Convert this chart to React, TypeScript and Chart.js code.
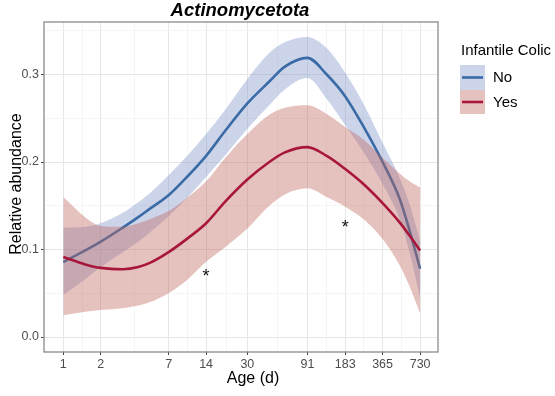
import { useEffect, useRef } from 'react';
import { Chart, registerables } from 'chart.js';

Chart.register(...registerables);

// ---------- data ----------
const AGES = [1, 1.5, 2, 3, 4, 5, 7, 10, 14, 20, 30, 45, 60, 91, 130, 183, 260, 365, 500, 600, 730];

const NO_FIT = [0.0857, 0.099, 0.109, 0.125, 0.137, 0.147, 0.162, 0.184, 0.207, 0.236, 0.267, 0.292, 0.309, 0.319, 0.3, 0.275, 0.239, 0.2, 0.158, 0.122, 0.078];
const NO_UPPER = [0.125, 0.126, 0.13, 0.142, 0.154, 0.165, 0.185, 0.208, 0.232, 0.26, 0.295, 0.325, 0.337, 0.343, 0.33, 0.302, 0.265, 0.222, 0.182, 0.152, 0.11];
const NO_LOWER = [0.048, 0.066, 0.08, 0.097, 0.109, 0.12, 0.138, 0.16, 0.183, 0.208, 0.238, 0.265, 0.283, 0.296, 0.272, 0.242, 0.21, 0.175, 0.135, 0.097, 0.045];

const YES_FIT = [0.0914, 0.083, 0.079, 0.0775, 0.08, 0.085, 0.097, 0.113, 0.13, 0.155, 0.18, 0.2, 0.211, 0.217, 0.207, 0.192, 0.174, 0.153, 0.131, 0.116, 0.099];
const YES_UPPER = [0.16, 0.137, 0.127, 0.126, 0.13, 0.135, 0.144, 0.16, 0.178, 0.205, 0.232, 0.254, 0.262, 0.265, 0.255, 0.24, 0.225, 0.205, 0.187, 0.178, 0.171];
const YES_LOWER = [0.025, 0.029, 0.031, 0.033, 0.036, 0.04, 0.05, 0.066, 0.086, 0.103, 0.124, 0.15, 0.163, 0.17, 0.16, 0.149, 0.134, 0.112, 0.082, 0.058, 0.027];

const X_TICKS = [1, 2, 7, 14, 30, 91, 183, 365, 730];
const Y_TICKS = [0, 0.1, 0.2, 0.3];
const Y_MINOR = [0.05, 0.15, 0.25, 0.35];

const SIG_AGES = [14, 183];
const SIG_VALUES = [0.074, 0.13];
const SIG_LABEL = '*';

const TITLE = 'Actinomycetota';
const X_TITLE = 'Age (d)';
const Y_TITLE = 'Relative abundance';
const LEGEND_TITLE = 'Infantile Colic';
const GROUPS = ['No', 'Yes'];

// ---------- style ----------
const FONT = '"Liberation Sans", Arial, Helvetica, sans-serif';
const BLUE = '#3A6BA6';
const RED = '#A8173B';
const BLUE_BAND = 'rgba(127,147,200,0.4)';
const RED_BAND = 'rgba(192,103,94,0.4)';

const X_MINOR = X_TICKS.slice(1).map((v, i) => Math.sqrt(v * X_TICKS[i]));

const pts = (vals: number[]) => AGES.map((a, i) => ({ x: a, y: vals[i] }));

const isMajorY = (v: number) => Y_TICKS.some((t) => Math.abs(t - v) < 1e-9);
const isMajorX = (v: number) => X_TICKS.some((t) => Math.abs(t - v) < 1e-9);

export default function App() {
  const ref = useRef<HTMLCanvasElement | null>(null);

  useEffect(() => {
    const canvas = ref.current;
    if (!canvas) return;

    const overlay = {
      id: 'overlay',
      afterDraw(chart: any) {
        const ctx = chart.ctx as CanvasRenderingContext2D;
        const area = chart.chartArea;
        const xs = chart.scales.x;
        const ys = chart.scales.y;
        ctx.save();

        // panel border
        ctx.strokeStyle = '#8a8a8a';
        ctx.lineWidth = 1.3;
        ctx.strokeRect(area.left, area.top, area.right - area.left, area.bottom - area.top);

        // significance marks
        ctx.fillStyle = '#111';
        ctx.font = `18px ${FONT}`;
        ctx.textAlign = 'center';
        ctx.textBaseline = 'alphabetic';
        SIG_AGES.forEach((a, i) => {
          const px = xs.getPixelForValue(a);
          const py = ys.getPixelForValue(SIG_VALUES[i]);
          ctx.fillText(SIG_LABEL, px, py + 10);
        });

        // title
        ctx.fillStyle = '#000';
        ctx.font = `italic bold 18.5px ${FONT}`;
        ctx.textAlign = 'center';
        ctx.fillText(TITLE, 240, 16);

        // x title
        ctx.font = `16px ${FONT}`;
        ctx.fillText(X_TITLE, 253, 383);

        // y title
        ctx.save();
        ctx.translate(21, 184);
        ctx.rotate(-Math.PI / 2);
        ctx.textAlign = 'center';
        ctx.fillText(Y_TITLE, 0, 0);
        ctx.restore();

        // legend
        ctx.textAlign = 'left';
        ctx.font = `15px ${FONT}`;
        ctx.fillStyle = '#000';
        ctx.fillText(LEGEND_TITLE, 461, 55);
        const keys = [
          { band: BLUE_BAND, line: BLUE, top: 65, h: 25 },
          { band: RED_BAND, line: RED, top: 90, h: 24 },
        ];
        keys.forEach((k, i) => {
          ctx.fillStyle = k.band;
          ctx.fillRect(460, k.top, 25, k.h);
          ctx.strokeStyle = k.line;
          ctx.lineWidth = 2.6;
          ctx.beginPath();
          const cy = k.top + k.h / 2;
          ctx.moveTo(462, cy);
          ctx.lineTo(483, cy);
          ctx.stroke();
          ctx.fillStyle = '#000';
          ctx.fillText(GROUPS[i], 493, k.top + 17);
        });

        ctx.restore();
      },
    };

    const smooth = { cubicInterpolationMode: 'monotone', pointRadius: 0 };
    const band = { ...smooth, borderWidth: 1, borderColor: 'transparent' };

    const chart = new Chart(canvas, {
      type: 'line',
      data: {
        datasets: [
          { label: GROUPS[1], data: pts(YES_FIT), ...smooth, borderColor: RED, borderWidth: 2.6, fill: false, order: 0 },
          { label: GROUPS[1] + ' upper', data: pts(YES_UPPER), ...band, backgroundColor: RED_BAND, fill: 2, order: 1 },
          { label: GROUPS[1] + ' lower', data: pts(YES_LOWER), ...band, fill: false, order: 2 },
          { label: GROUPS[0], data: pts(NO_FIT), ...smooth, borderColor: BLUE, borderWidth: 2.6, fill: false, order: 3 },
          { label: GROUPS[0] + ' upper', data: pts(NO_UPPER), ...band, backgroundColor: BLUE_BAND, fill: 5, order: 4 },
          { label: GROUPS[0] + ' lower', data: pts(NO_LOWER), ...band, fill: false, order: 5 },
        ] as any,
      },
      options: {
        responsive: false,
        animation: false,
        devicePixelRatio: 1,
        layout: { padding: { top: 22, right: 117, left: 0, bottom: 0 } },
        plugins: {
          legend: { display: false },
          tooltip: { enabled: false },
          title: { display: false },
        },
        scales: {
          x: {
            type: 'logarithmic',
            min: 0.732,
            max: 1016,
            afterBuildTicks: (s: any) => {
              s.ticks = [...X_TICKS, ...X_MINOR].sort((a, b) => a - b).map((v) => ({ value: v }));
            },
            afterFit: (s: any) => {
              s.height = 44;
            },
            border: { display: false },
            grid: {
              color: (c: any) => (c.tick && isMajorX(c.tick.value) ? '#e6e6e6' : '#f2f2f2'),
              lineWidth: (c: any) => (c.tick && isMajorX(c.tick.value) ? 1 : 0.8),
              tickLength: 3,
              tickColor: (c: any) => (c.tick && isMajorX(c.tick.value) ? '#444' : 'rgba(0,0,0,0)'),
            },
            ticks: {
              autoSkip: false,
              maxRotation: 0,
              padding: 2,
              color: '#4d4d4d',
              font: { family: FONT, size: 12.5 },
              callback: (v: any) => (isMajorX(Number(v)) ? String(v) : ''),
            },
          },
          y: {
            type: 'linear',
            min: -0.0171,
            max: 0.36,
            afterBuildTicks: (s: any) => {
              s.ticks = [...Y_TICKS, ...Y_MINOR].sort((a, b) => a - b).map((v) => ({ value: v }));
            },
            afterFit: (s: any) => {
              s.width = 44;
            },
            border: { display: false },
            grid: {
              color: (c: any) => (c.tick && isMajorY(c.tick.value) ? '#e6e6e6' : '#f2f2f2'),
              lineWidth: (c: any) => (c.tick && isMajorY(c.tick.value) ? 1 : 0.8),
              tickLength: 3,
              tickColor: (c: any) => (c.tick && isMajorY(c.tick.value) ? '#444' : 'rgba(0,0,0,0)'),
            },
            ticks: {
              autoSkip: false,
              padding: 2,
              color: '#4d4d4d',
              font: { family: FONT, size: 12.5 },
              callback: (v: any) => (isMajorY(Number(v)) ? Number(v).toFixed(1) : ''),
            },
          },
        },
      } as any,
      plugins: [overlay],
    });

    return () => chart.destroy();
  }, []);

  return (
    <div style={{ position: 'absolute', left: 0, top: 0, width: 555, height: 396, background: '#fff' }}>
      <canvas ref={ref} width={555} height={396} style={{ width: 555, height: 396, display: 'block' }} />
    </div>
  );
}
